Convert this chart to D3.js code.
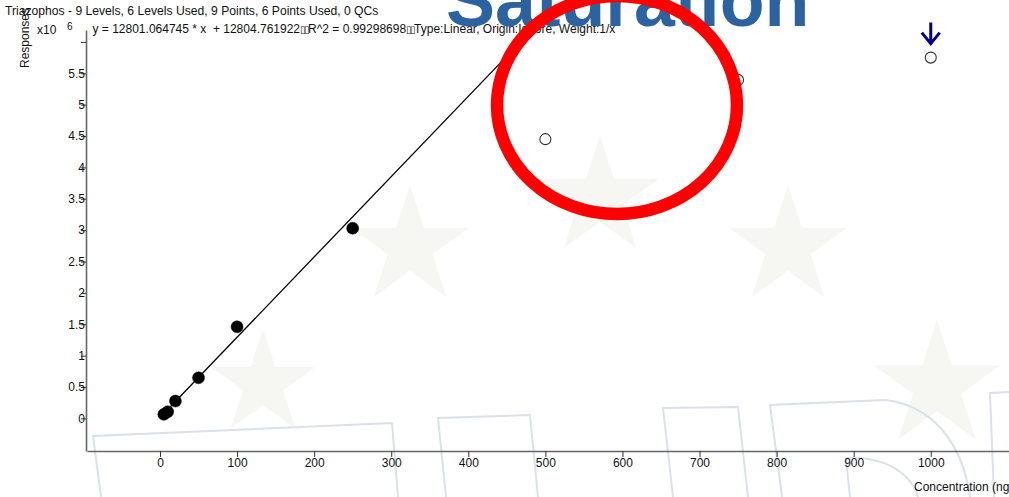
<!DOCTYPE html>
<html><head><meta charset="utf-8">
<script src="https://cdn.jsdelivr.net/npm/d3@7"></script>
<style>
html,body{margin:0;padding:0;background:#fff;overflow:hidden}
svg{display:block;font-family:"Liberation Sans",Arial,sans-serif}
</style></head><body>
<svg id="chart" width="1009" height="497"></svg>
<script>
// Calibration levels (ng/ml) and measured responses
const compound = "Triazophos";
const concentrations = [5, 10, 20, 50, 100, 250, 500, 750, 1000];
const responses = [64000, 105000, 276000, 647000, 1459000, 3030000, 4450000, 5395000, 5750000];
const levelUsed = [true, true, true, true, true, true, false, false, false];
const qcCount = 0;
// Linear fit (weight 1/x)
const slope = 12801.064745;
const intercept = 12804.761922;
const rSquared = 0.99298698;
// Axis ticks (responses shown in units of 10^6)
const xTicks = [0, 100, 200, 300, 400, 500, 600, 700, 800, 900, 1000];
const yTicks = [0, 0.5, 1, 1.5, 2, 2.5, 3, 3.5, 4, 4.5, 5, 5.5, 6];
const yTickLabels = ["0", "0.5", "1", "1.5", "2", "2.5", "3", "3.5", "4", "4.5", "5", "5.5", ""];
const flaggedLevel = 1000;
const stampText = "Saturation";

const W = 1009, H = 497;
const svg = d3.select("#chart");
svg.append("rect").attr("width", W).attr("height", H).attr("fill", "#fff");

const x = d3.scaleLinear().domain([-94.7, 1101.5]).range([87, 1009]);
const y = d3.scaleLinear().domain([-0.52, 6.19]).range([451, 30]);
const yv = v => y(v / 1e6);

// --- faint background logo: stars and letter outlines ---
const bg = svg.append("g");
const starPts = (cx, cy, R) => {
  const r = R * 0.382, pts = [];
  for (let i = 0; i < 10; i++) {
    const a = -Math.PI / 2 + i * Math.PI / 5, rr = i % 2 ? r : R;
    pts.push([cx + rr * Math.cos(a), cy + rr * Math.sin(a)]);
  }
  return pts;
};
const stars = [[410, 247, 62], [600, 198, 62], [788, 247, 62], [263, 384, 55], [937, 386, 66]];
bg.selectAll("path.star").data(stars).join("path")
  .attr("class", "star")
  .attr("d", d => d3.line()(starPts(...d)) + "Z")
  .attr("fill", "#f6f6f2");
const outlines = [
  "M101,497 L93,436 L392,423 L398,497",
  "M446,497 L438,418 L530,415 L538,497",
  "M673,497 L663,408 L738,407 L748,497",
  "M782,497 L770,405 L885,400 C930,405 962,440 970,497",
  "M850,497 L846,458 C880,456 910,470 918,497",
  "M994,497 L990,393 L1009,392"
];
bg.selectAll("path.outl").data(outlines).join("path")
  .attr("class", "outl").attr("d", d => d)
  .attr("fill", "none").attr("stroke", "#dae1ea").attr("stroke-width", 2);

// --- axes ---
const axisColor = "#666";
const gx = svg.append("g").attr("transform", `translate(0,${y(-0.52)})`)
  .call(d3.axisBottom(x).tickValues(xTicks).tickSizeInner(6).tickSizeOuter(0).tickPadding(1)
    .tickFormat(d3.format("d")));
const gy = svg.append("g").attr("transform", `translate(${x(-94.7) - 1},0)`)
  .call(d3.axisLeft(y).tickValues(yTicks).tickSizeInner(5).tickSizeOuter(0).tickPadding(-4)
    .tickFormat((d, i) => yTickLabels[i]));
[gx, gy].forEach(g => {
  g.select(".domain").attr("stroke", axisColor).attr("stroke-width", 1.6);
  g.selectAll(".tick line").attr("stroke", "#333");
  g.selectAll(".tick text").attr("font-size", 12).attr("fill", "#111")
    .attr("font-family", '"Liberation Sans",Arial,sans-serif');
});

// --- regression line ---
svg.append("clipPath").attr("id", "plotClip").append("rect")
  .attr("x", 87).attr("y", 30).attr("width", W - 87).attr("height", 421);
svg.append("line").attr("clip-path", "url(#plotClip)")
  .attr("x1", x(concentrations[0])).attr("y1", yv(slope * concentrations[0] + intercept))
  .attr("x2", x(flaggedLevel)).attr("y2", yv(slope * flaggedLevel + intercept))
  .attr("stroke", "#000").attr("stroke-width", 1.3);

// --- calibration points ---
const pts = concentrations.map((c, i) => ({ c, r: responses[i], used: levelUsed[i] }));
svg.selectAll("circle.pt").data(pts).join("circle")
  .attr("class", "pt")
  .attr("cx", d => x(d.c)).attr("cy", d => yv(d.r))
  .attr("r", d => d.used ? 6 : 5.5)
  .attr("fill", d => d.used ? "#000" : "#fff")
  .attr("stroke", d => d.used ? "#000" : "#333")
  .attr("stroke-width", d => d.used ? 0.5 : 1.1);

// --- header texts ---
const nLevels = concentrations.length, nUsed = levelUsed.filter(Boolean).length;
svg.append("text").attr("x", 5).attr("y", 15).attr("font-size", 12.15).attr("fill", "#111")
  .text(`${compound} - ${nLevels} Levels, ${nUsed} Levels Used, ${nLevels} Points, ${nUsed} Points Used, ${qcCount} QCs`);
svg.append("text").attr("transform", "translate(29,68) rotate(-90)")
  .attr("font-size", 12).attr("fill", "#111").text("Responses");
svg.append("text").attr("x", 37).attr("y", 34).attr("font-size", 12).attr("fill", "#111").text("x10");
svg.append("text").attr("x", 67).attr("y", 30).attr("font-size", 10).attr("fill", "#111").text("6");

const eq = svg.append("text").attr("x", 92.5).attr("y", 33).attr("font-size", 12).attr("fill", "#111")
  .style("white-space", "pre");
eq.append("tspan").text(`y = ${slope.toFixed(6)} * x  + ${intercept.toFixed(6)}`);
eq.append("tspan").attr("font-size", 10).attr("font-family", "DejaVu Sans").attr("letter-spacing", -1.5).text("\u25AF\u25AF");
eq.append("tspan").text(`R^2 = ${rSquared.toFixed(8)}`);
eq.append("tspan").attr("font-size", 10).attr("font-family", "DejaVu Sans").attr("letter-spacing", -1.5).text("\u25AF\u25AF");
eq.append("tspan").text("Type:Linear, Origin:Ignore, Weight:1/x");

svg.append("text").attr("x", 914).attr("y", 491).attr("font-size", 12).attr("fill", "#111")
  .text("Concentration (ng/ml)");

// --- saturation annotation ---
svg.append("text").attr("x", 446).attr("y", 26).attr("font-size", 73.5).attr("font-weight", "bold")
  .attr("fill", "#2d62a0").text(stampText);
svg.append("ellipse").attr("cx", 617).attr("cy", 105).attr("rx", 120).attr("ry", 109)
  .attr("fill", "none").attr("stroke", "#ff0000").attr("stroke-width", 12.5);

// arrow above the flagged level
const flagged = pts.find(d => d.c === flaggedLevel);
const ax = x(flagged.c), ay = yv(flagged.r) - 14;
svg.append("path")
  .attr("d", `M${ax},${ay - 21} L${ax},${ay} M${ax - 9},${ay - 11} L${ax},${ay} L${ax + 9},${ay - 11}`)
  .attr("fill", "none").attr("stroke", "#00008b").attr("stroke-width", 3);
</script>
</body></html>
